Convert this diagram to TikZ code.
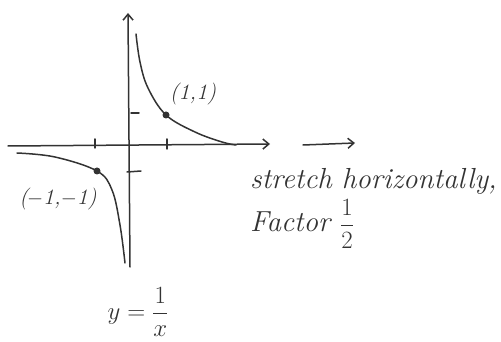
\documentclass[tikz,border=0pt]{standalone}
\usetikzlibrary{arrows.meta}
\begin{document}
\begin{tikzpicture}[x=1pt,y=-1pt,
  ink/.style={draw=black!80,line width=1.5pt,line cap=round,line join=round},
  axisarrow/.style={ink,-{Straight Barb[length=6pt,width=10pt]}},
  lbl/.style={font=\fontsize{22}{26}\selectfont\itshape,text=black!80},
  big/.style={font=\fontsize{29}{36}\selectfont\itshape,text=black!80,align=left}]
\useasboundingbox (0,0) rectangle (501,342);
% axes
\coordinate (O) at (129,145);
\draw[axisarrow] (8,146) -- (270,144);
\draw[axisarrow] (130,267) -- (128,13);
% ticks
\draw[ink] (95,139) -- (95,148);
\draw[ink] (167,139) -- (167,149);
\draw[ink] (131,113) -- (139,113);
\draw[ink] (127,172) -- (141,171);
% curves
\draw[ink] plot[smooth,tension=0.6] coordinates {(136,34) (140,62) (148,88) (166,115) (195,132) (222,142) (236,145)};
\draw[ink] plot[smooth,tension=0.6] coordinates {(17,153) (55,157) (97,171) (112,190) (120,225) (125,263)};
% points
\fill[black!80] (166,115) circle (3.5pt) node (p1) {};
\fill[black!80] (97,171) circle (3.5pt) node (p2) {};
\node[lbl] (l1) at (193,94) {(1,1)};
\node[lbl] (l2) at (58,199) {(\kern-1pt$-$1,$-$1)};
% second arrow
\draw[axisarrow] (303,145) -- (355,143);
% text
\node[big,anchor=north west,inner sep=0pt] (t1) at (250,168) {stretch horizontally,};
\node[big,anchor=west,inner sep=0pt] (t3) at (250,224) {Factor $\displaystyle\frac{1}{2}$};
\node[big,font=\fontsize{25}{30}\selectfont,inner sep=0pt] (t2) at (138,312) {$y=\displaystyle\frac{1}{x}$};
\end{tikzpicture}
\end{document}
